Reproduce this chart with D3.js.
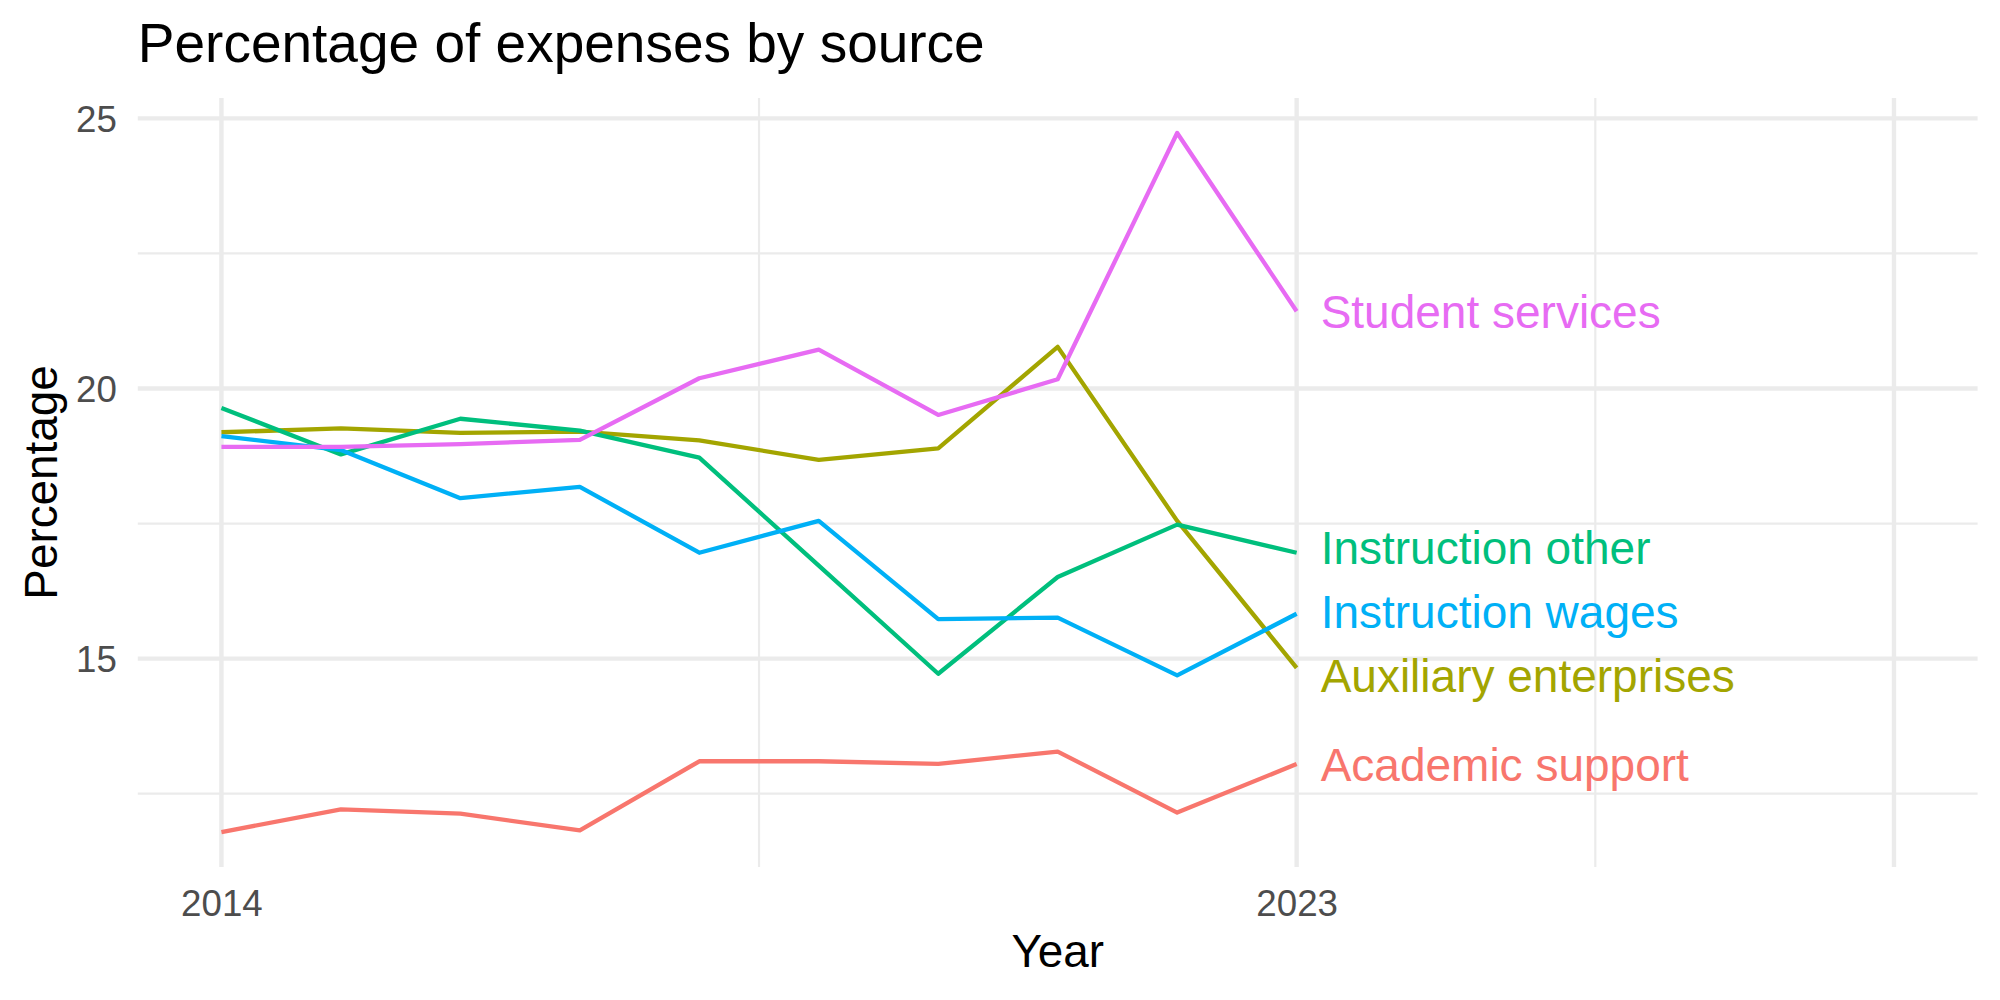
<!DOCTYPE html>
<html>
<head>
<meta charset="utf-8">
<script src="https://cdn.jsdelivr.net/npm/d3@7"></script>
<style>
body { margin: 0; background: #ffffff; }
text { font-family: "Liberation Sans", Arial, Helvetica, sans-serif; }
</style>
</head>
<body>
<div id="expenses"></div>
<script>
//
// Data: percentage of expenses by source, 2014-2023
//
var years = [2014, 2015, 2016, 2017, 2018, 2019, 2020, 2021, 2022, 2023];

var academicSupport      = [11.79, 12.21, 12.13, 11.82, 13.10, 13.10, 13.05, 13.28, 12.15, 13.05];
var auxiliaryEnterprises = [19.19, 19.26, 19.18, 19.20, 19.04, 18.68, 18.89, 20.77, 17.55, 14.83];
var instructionOther     = [19.64, 18.78, 19.44, 19.22, 18.72, 16.72, 14.72, 16.51, 17.48, 16.96];
var instructionWages     = [19.12, 18.86, 17.97, 18.18, 16.96, 17.55, 15.73, 15.76, 14.69, 15.83];
var studentServices      = [18.92, 18.92, 18.97, 19.05, 20.19, 20.72, 19.51, 20.17, 24.73, 21.43];

var seriesNames = ["Academic support", "Auxiliary enterprises", "Instruction other", "Instruction wages", "Student services"];
var seriesValues = [academicSupport, auxiliaryEnterprises, instructionOther, instructionWages, studentServices];

var xLimits = [2014, 2028];
var xBreaks = [2014, 2023, 2028];
var xBreakLabels = ["2014", "2023", ""];
var yBreaks = [15, 20, 25];

//
// Size of the drawing and of the panel
//
var W = 2000, H = 1000;
var margin = {top: 98, right: 22.4, bottom: 133, left: 137.8};
var width = W - margin.left - margin.right;
var height = H - margin.top - margin.bottom;

var color = d3.scaleOrdinal()
	.domain(seriesNames)
	.range(["#F8766D", "#A3A500", "#00BF7D", "#00B0F6", "#E76BF3"]);

//
// Build one record per series
//
var data = seriesNames.map(function(name, i) {
	return {name: name, values: years.map(function(y, j) { return {year: y, value: seriesValues[i][j]}; })};
});

//
// set the ranges (ggplot style 5% expansion)
//
var xPad = (xLimits[1] - xLimits[0]) * 0.05;
var x = d3.scaleLinear()
	.domain([xLimits[0] - xPad, xLimits[1] + xPad])
	.range([0, width]);

var allValues = d3.merge(seriesValues);
var yMin = d3.min(allValues), yMax = d3.max(allValues);
var yPad = (yMax - yMin) * 0.05;
var y = d3.scaleLinear()
	.domain([yMin - yPad, yMax + yPad])
	.range([height, 0]);

// minor breaks are midpoints between major ones
function minorOf(breaks, scale) {
	var step = breaks[1] - breaks[0];
	var out = [];
	var d = scale.domain();
	for (var i = 0; i < breaks.length - 1; i++) out.push((breaks[i] + breaks[i + 1]) / 2);
	if (breaks.length === 3 && Math.abs((breaks[2] - breaks[1]) - step) < 1e-9) {
		out.push(breaks[0] - step / 2);
		out.push(breaks[2] + step / 2);
	}
	return out.filter(function(v) { return v >= d[0] && v <= d[1]; });
}
var xMinor = [];
for (var i = 0; i < xBreaks.length - 1; i++) xMinor.push((xBreaks[i] + xBreaks[i + 1]) / 2);
var yMinor = minorOf(yBreaks, y);

var svg = d3.select("#expenses").append("svg")
	.attr("width", W)
	.attr("height", H);

var g = svg.append("g")
	.attr("transform", "translate(" + margin.left + "," + margin.top + ")");

//
// Grid lines
//
g.selectAll(".yminor").data(yMinor).enter().append("line")
	.attr("x1", 0).attr("x2", width)
	.attr("y1", function(d) { return y(d); }).attr("y2", function(d) { return y(d); })
	.style("stroke", "#EBEBEB").style("stroke-width", 2.2);

g.selectAll(".xminor").data(xMinor).enter().append("line")
	.attr("y1", 0).attr("y2", height)
	.attr("x1", function(d) { return x(d); }).attr("x2", function(d) { return x(d); })
	.style("stroke", "#EBEBEB").style("stroke-width", 2.2);

g.selectAll(".ymajor").data(yBreaks).enter().append("line")
	.attr("x1", 0).attr("x2", width)
	.attr("y1", function(d) { return y(d); }).attr("y2", function(d) { return y(d); })
	.style("stroke", "#EBEBEB").style("stroke-width", 4.4);

g.selectAll(".xmajor").data(xBreaks).enter().append("line")
	.attr("y1", 0).attr("y2", height)
	.attr("x1", function(d) { return x(d); }).attr("x2", function(d) { return x(d); })
	.style("stroke", "#EBEBEB").style("stroke-width", 4.4);

//
// Axes (no ticks, no domain line)
//
var axisX = g.append("g")
	.attr("transform", "translate(0," + height + ")")
	.call(d3.axisBottom(x).tickValues(xBreaks).tickSize(0).tickPadding(23)
		.tickFormat(function(d, i) { return xBreakLabels[i]; }));
axisX.select(".domain").remove();
axisX.selectAll("text")
	.style("font-size", "36.7px")
	.style("fill", "#4D4D4D")
	.style("font-family", "'Liberation Sans', Arial, Helvetica, sans-serif");

var axisY = g.append("g")
	.call(d3.axisLeft(y).tickValues(yBreaks).tickSize(0).tickPadding(21));
axisY.select(".domain").remove();
axisY.selectAll("text")
	.attr("dy", "0.36em")
	.style("font-size", "36.7px")
	.style("fill", "#4D4D4D")
	.style("font-family", "'Liberation Sans', Arial, Helvetica, sans-serif");

//
// Lines
//
var line = d3.line()
	.x(function(d) { return x(d.year); })
	.y(function(d) { return y(d.value); });

g.selectAll(".series")
	.data(data)
	.enter().append("path")
	.attr("class", "series")
	.attr("d", function(d) { return line(d.values); })
	.style("fill", "none")
	.style("stroke", function(d) { return color(d.name); })
	.style("stroke-width", 4.3)
	.style("stroke-linejoin", "round");

//
// End labels, pushed apart a little when they would overlap
//
var labels = data.map(function(d) {
	var last = d.values[d.values.length - 1];
	return {name: d.name, year: last.year, y: y(last.value)};
}).sort(function(a, b) { return a.y - b.y; });

var minGap = 64;
for (var k = 0; k < 200; k++) {
	for (var j = 0; j < labels.length - 1; j++) {
		var gap = labels[j + 1].y - labels[j].y;
		if (gap < minGap) {
			var push = (minGap - gap) / 2;
			labels[j].y -= push;
			labels[j + 1].y += push;
		}
	}
}

g.selectAll(".endlabel")
	.data(labels)
	.enter().append("text")
	.attr("class", "endlabel")
	.attr("x", function(d) { return x(d.year) + 24; })
	.attr("y", function(d) { return d.y; })
	.attr("dy", "0.36em")
	.style("font-size", "46px")
	.style("fill", function(d) { return color(d.name); })
	.text(function(d) { return d.name; });

//
// Titles
//
svg.append("text")
	.attr("x", margin.left)
	.attr("y", 62)
	.style("font-size", "55px")
	.style("fill", "#000000")
	.text("Percentage of expenses by source");

svg.append("text")
	.attr("x", margin.left + width / 2)
	.attr("y", 967)
	.attr("text-anchor", "middle")
	.style("font-size", "45.8px")
	.style("fill", "#000000")
	.text("Year");

svg.append("text")
	.attr("transform", "translate(56.7," + (margin.top + height / 2) + ") rotate(-90)")
	.attr("text-anchor", "middle")
	.style("font-size", "45.8px")
	.style("fill", "#000000")
	.text("Percentage");
</script>
</body>
</html>
